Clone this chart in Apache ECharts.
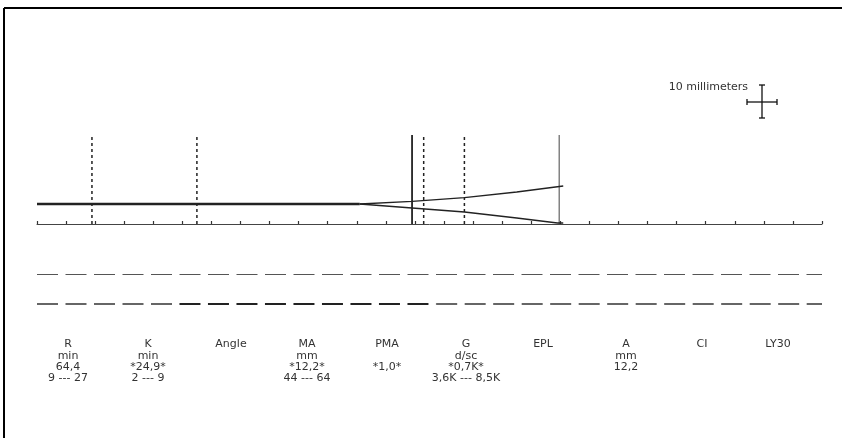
<!DOCTYPE html>
<html>
<head>
<meta charset="utf-8">
<script src="https://cdn.jsdelivr.net/npm/echarts@6/dist/echarts.min.js"></script>
<style>
html,body{margin:0;padding:0;background:#fff;}
#chart{width:842px;height:438px;}
</style>
</head>
<body>
<div id="chart"></div>
<script>
// ---- data ----
const traceBaseX = [0, 11.1];
const traceBaseY = [6, 6];
const traceUpperX = [11.1, 12.9, 14.7, 16.5, 18.1];
const traceUpperY = [6, 6.8, 7.9, 9.6, 11.4];
const traceLowerX = [11.1, 12.9, 14.7, 16.5, 17.9, 18.1];
const traceLowerY = [6, 4.8, 3.6, 1.8, 0.3, 0.3];
const markerX = [1.89, 5.5, 12.9, 13.3, 14.7, 17.96];
const markerKind = ['dash', 'dash', 'solidThick', 'dash', 'dash', 'solid'];
const markerTop = 26.7;
const refLines = [-15, -24];
const refLine2Breaks = [0, 4.9, 13.73, 27];
const paramNames = ['R', 'K', 'Angle', 'MA', 'PMA', 'G', 'EPL', 'A', 'CI', 'LY30'];
const paramUnits = ['min', 'min', '', 'mm', '', 'd/sc', '', 'mm', '', ''];
const paramValues = ['64,4', '*24,9*', '', '*12,2*', '*1,0*', '*0,7K*', '', '12,2', '', ''];
const paramRanges = ['9 --- 27', '2 --- 9', '', '44 --- 64', '', '3,6K --- 8,5K', '', '', '', ''];
const scaleLabel = '10 millimeters';

// ---- layout ----
const colCenters = [68, 148, 231, 307, 387, 466, 543, 626, 702, 778];
const rowY = [344, 356, 367, 378];

const chart = echarts.init(document.getElementById('chart'), null, {renderer: 'canvas'});
const FONT = '"DejaVu Sans", Verdana, sans-serif';
const INK = '#222';

const series = [];
function pairs(xs, ys) { return xs.map((x, i) => [x, ys[i]]); }
series.push({type: 'line', data: pairs(traceBaseX, traceBaseY), symbol: 'none', lineStyle: {color: INK, width: 2.5}, z: 5});
series.push({type: 'line', data: pairs(traceUpperX, traceUpperY), symbol: 'none', lineStyle: {color: INK, width: 1.3}, z: 5});
series.push({type: 'line', data: pairs(traceLowerX, traceLowerY), symbol: 'none', lineStyle: {color: INK, width: 1.3}, z: 5});
markerX.forEach((x, i) => {
  const k = markerKind[i];
  const ls = k === 'dash' ? {color: INK, width: 1.5, type: [3, 3]}
           : k === 'solidThick' ? {color: INK, width: 1.8, type: 'solid'}
           : {color: '#444', width: 1, type: 'solid'};
  series.push({type: 'line', data: [[x, 0], [x, markerTop]], symbol: 'none', lineStyle: ls, z: 4});
});
const seg2Styles = [
  {color: '#666', width: 1.8, type: [21, 7.5]},
  {color: '#222', width: 1.8, type: [21, 7.5]},
  {color: '#666', width: 1.8, type: [21, 7.5]}
];
const mlData = [
  {yAxis: refLines[0], lineStyle: {color: '#555', width: 1, type: [21, 7.5]}}
];
for (let i = 0; i < refLine2Breaks.length - 1; i++) {
  mlData.push([
    {coord: [refLine2Breaks[i], refLines[1]], lineStyle: seg2Styles[i]},
    {coord: [refLine2Breaks[i + 1], refLines[1]]}
  ]);
}
series.push({
  type: 'line', data: [], symbol: 'none',
  markLine: {silent: true, symbol: 'none', label: {show: false}, data: mlData}
});

const graphics = [];
// frame
graphics.push({type: 'line', shape: {x1: 4, y1: 8, x2: 842, y2: 8}, style: {stroke: '#000', lineWidth: 2}});
graphics.push({type: 'line', shape: {x1: 4, y1: 8, x2: 4, y2: 438}, style: {stroke: '#000', lineWidth: 2}});
// scale cross
const cx = 762, cy = 102;
const segs = [
  [cx, 85, cx, 118], [cx - 3, 85, cx + 3, 85], [cx - 3, 118, cx + 3, 118],
  [747, cy, 777, cy], [747, cy - 3, 747, cy + 3], [777, cy - 3, 777, cy + 3]
];
segs.forEach(s => graphics.push({type: 'line', shape: {x1: s[0], y1: s[1], x2: s[2], y2: s[3]}, style: {stroke: '#111', lineWidth: 1.3}}));
graphics.push({type: 'text', x: 748, y: 87, style: {text: scaleLabel, font: '11px ' + FONT, fill: '#333', align: 'right', verticalAlign: 'middle'}});
// parameter table
const rows = [paramNames, paramUnits, paramValues, paramRanges];
paramNames.forEach((n, i) => {
  rows.forEach((r, j) => {
    if (!r[i]) return;
    graphics.push({type: 'text', x: colCenters[i], y: rowY[j], style: {text: r[i], font: '11px ' + FONT, fill: '#333', align: 'center', verticalAlign: 'middle'}});
  });
});

chart.setOption({
  backgroundColor: '#fff',
  animation: false,
  grid: {left: 37, right: 20, top: 124, bottom: 114},
  xAxis: {
    type: 'value', min: 0, max: 27, interval: 1,
    axisLine: {onZero: true, lineStyle: {color: '#444', width: 1}},
    axisTick: {show: true, inside: true, length: 3, lineStyle: {color: '#333', width: 1.2}},
    axisLabel: {show: false}, splitLine: {show: false}
  },
  yAxis: {type: 'value', min: -30, max: 30, show: false, splitLine: {show: false}},
  series: series,
  graphic: graphics
});
</script>
</body>
</html>
